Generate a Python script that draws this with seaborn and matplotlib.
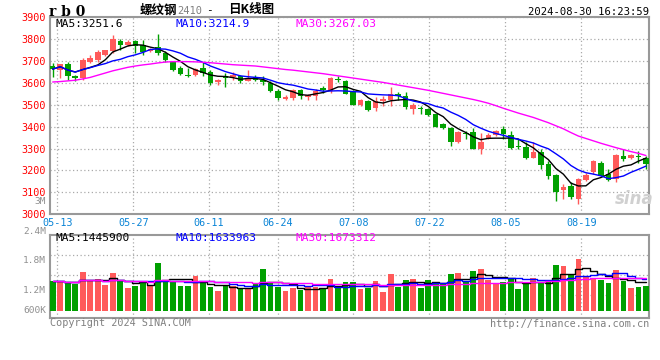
import numpy as np
import pandas as pd
import matplotlib
matplotlib.use("Agg")
import matplotlib.pyplot as plt
import seaborn as sns

# daily candles, 2024-05-10 .. 2024-08-30 (80 trading days)
opens = [3679, 3658, 3688, 3630, 3622, 3694, 3706, 3726, 3744, 3792,
         3774, 3789, 3771, 3747, 3763, 3736, 3695, 3668, 3637, 3637,
         3668, 3648, 3603, 3630, 3625, 3630, 3610, 3625, 3615, 3600,
         3562, 3527, 3530, 3566, 3536, 3542, 3577, 3562, 3617, 3607,
         3557, 3501, 3517, 3483, 3517, 3520, 3547, 3542, 3479, 3486,
         3479, 3456, 3410, 3395, 3330, 3373, 3376, 3299, 3345, 3361,
         3388, 3361, 3310, 3308, 3258, 3285, 3228, 3179, 3112, 3127,
         3070, 3158, 3191, 3236, 3183, 3161, 3264, 3255, 3266, 3255]
highs = [3691, 3688, 3694, 3636, 3712, 3729, 3751, 3751, 3817, 3800,
         3794, 3794, 3794, 3759, 3823, 3744, 3700, 3676, 3668, 3668,
         3694, 3657, 3618, 3645, 3648, 3637, 3657, 3637, 3630, 3607,
         3570, 3545, 3572, 3572, 3551, 3572, 3585, 3627, 3630, 3615,
         3567, 3527, 3524, 3536, 3539, 3582, 3557, 3557, 3509, 3494,
         3486, 3460, 3418, 3400, 3379, 3380, 3395, 3370, 3373, 3385,
         3403, 3380, 3342, 3330, 3330, 3297, 3242, 3183, 3140, 3146,
         3165, 3188, 3248, 3242, 3206, 3274, 3297, 3274, 3290, 3267]
lows = [3627, 3621, 3615, 3607, 3615, 3690, 3697, 3721, 3736, 3751,
        3767, 3736, 3729, 3739, 3729, 3697, 3653, 3636, 3627, 3630,
        3633, 3591, 3591, 3582, 3615, 3600, 3607, 3607, 3592, 3558,
        3524, 3524, 3524, 3527, 3524, 3524, 3555, 3555, 3603, 3547,
        3501, 3494, 3471, 3471, 3494, 3494, 3524, 3479, 3456, 3456,
        3449, 3398, 3388, 3312, 3327, 3342, 3296, 3274, 3342, 3358,
        3342, 3297, 3297, 3252, 3255, 3206, 3161, 3062, 3070, 3070,
        3047, 3150, 3183, 3173, 3152, 3146, 3245, 3252, 3236, 3206]
closes = [3663, 3684, 3630, 3621, 3706, 3713, 3739, 3748, 3800, 3771,
          3785, 3767, 3739, 3754, 3736, 3703, 3658, 3642, 3630, 3663,
          3645, 3600, 3613, 3624, 3638, 3607, 3619, 3612, 3603, 3562,
          3529, 3536, 3566, 3539, 3546, 3562, 3566, 3620, 3613, 3551,
          3501, 3521, 3476, 3515, 3527, 3551, 3539, 3489, 3501, 3482,
          3452, 3398, 3395, 3330, 3376, 3367, 3299, 3330, 3361, 3380,
          3366, 3304, 3306, 3255, 3285, 3225, 3176, 3103, 3125, 3080,
          3161, 3179, 3242, 3176, 3158, 3270, 3252, 3270, 3262, 3228]
# MA30 as drawn on the chart (needs history before the window)
ma30_price = [3604, 3606, 3609, 3612, 3618, 3625, 3635, 3645, 3655, 3663,
              3671, 3677, 3682, 3686, 3691, 3695, 3697, 3697, 3697, 3696,
              3694, 3692, 3689, 3686, 3683, 3681, 3679, 3677, 3673, 3669,
              3665, 3661, 3658, 3654, 3650, 3646, 3642, 3637, 3632, 3627,
              3622, 3617, 3612, 3607, 3602, 3596, 3590, 3584, 3578, 3572,
              3566, 3559, 3552, 3545, 3538, 3531, 3524, 3516, 3507, 3496,
              3484, 3473, 3462, 3452, 3442, 3430, 3418, 3404, 3390, 3373,
              3357, 3346, 3335, 3324, 3314, 3304, 3295, 3286, 3278, 3268]
# volume in thousand lots
volumes = [1530, 1530, 1411, 1360, 1993, 1530, 1633, 1324, 1942, 1530,
           1169, 1272, 1411, 1272, 2457, 1530, 1530, 1272, 1272, 1787,
           1411, 1221, 1015, 1272, 1272, 1133, 1169, 1411, 2148, 1411,
           1221, 1015, 1169, 1066, 1221, 1236, 1118, 1633, 1185, 1478,
           1478, 1118, 1185, 1530, 979, 1890, 1221, 1581, 1633, 1185,
           1581, 1375, 1375, 1890, 1942, 1478, 2045, 2148, 1581, 1427,
           1478, 1684, 1118, 1427, 1684, 1427, 1581, 2354, 2302, 1839,
           2663, 1720, 1633, 1581, 1442, 2096, 1530, 1169, 1221, 1272]
tick_idx = [1, 11, 21, 30, 40, 50, 60, 70]
tick_labels = ["05-13", "05-27", "06-11", "06-24", "07-08", "07-22", "08-05", "08-19"]
price_ticks = [3000, 3100, 3200, 3300, 3400, 3500, 3600, 3700, 3800, 3900]
vol_labels = ["3M", "2.4M", "1.8M", "1.2M", "600K"]
# caption values printed on the chart
price_ma_text = ["MA5:3251.6", "MA10:3214.9", "MA30:3267.03"]
vol_ma_text = ["MA5:1445900", "MA10:1633963", "MA30:1673312"]

RED = "#ff5a5a"
GREEN = "#00a000"
GRID = "#aaaaaa"
FRAME = "#999999"
MONO = "DejaVu Sans Mono"
MA_COLORS = ["black", "#0000ff", "#ff00ff"]

sns.set_theme(style="white")
plt.rcParams["font.family"] = ["DejaVu Sans Mono", "Noto Sans CJK SC"]

df = pd.DataFrame({"o": opens, "h": highs, "l": lows, "c": closes,
                   "v": np.array(volumes) * 1000})
df["x"] = np.arange(len(df))
df["up"] = df["c"] >= df["o"]
df["col"] = np.where(df["up"], RED, GREEN)
df["ma5"] = df["c"].rolling(5, min_periods=1).mean()
df["ma10"] = df["c"].rolling(10, min_periods=1).mean()
df["ma30"] = ma30_price
df["vma5"] = df["v"].rolling(5, min_periods=1).mean()
df["vma10"] = df["v"].rolling(10, min_periods=1).mean()
df["vma30"] = df["v"].rolling(30, min_periods=1).mean()

W, H = 660, 360
fig = plt.figure(figsize=(6.6, 3.6), dpi=100)
fig.patch.set_facecolor("white")


def fx(px):
    return px / W


def fy(py):
    return 1 - py / H


# gridline positions drift a bit from the candle centres on the original
tick_pos = [0.61 + (i - 1) * 1.0113 for i in tick_idx]
xlim = (-0.36, 79.4)

ax = fig.add_axes([fx(50), fy(214.2), fx(649) - fx(50), fy(17.2) - fy(214.2)])
axv = fig.add_axes([fx(50), fy(317.7), fx(649) - fx(50), fy(234.7) - fy(317.7)])

# candles
ax.vlines(df["x"], df["l"], df["h"], colors=df["col"], linewidth=1, zorder=3)
body_lo = np.minimum(df["o"], df["c"])
body_h = np.maximum(np.abs(df["c"] - df["o"]), 3)
ax.bar(df["x"], body_h, bottom=body_lo, width=0.74, color=df["col"],
       linewidth=0, zorder=4)

for col, c in zip(["ma5", "ma10", "ma30"], MA_COLORS):
    sns.lineplot(data=df, x="x", y=col, ax=ax, color=c, linewidth=1, zorder=5)

ax.set_xlim(*xlim)
ax.set_ylim(3000, 3900)
ax.set_yticks(price_ticks)
ax.set_yticklabels([str(t) for t in price_ticks], color="#ff0000",
                   fontsize=7.3, family=MONO)
ax.set_xticks(tick_pos)
ax.set_xticklabels(tick_labels, color="#0a84d6", fontsize=7.3, family=MONO)
ax.tick_params(length=0, pad=3)
ax.set_xlabel("")
ax.set_ylabel("")
ax.grid(True, linestyle=(0, (1, 2)), color=GRID, linewidth=0.9)

# volume
axv.bar(df["x"], df["v"], width=0.76, color=df["col"], linewidth=0, zorder=3)
for col, c in zip(["vma5", "vma10", "vma30"], MA_COLORS):
    sns.lineplot(data=df, x="x", y=col, ax=axv, color=c, linewidth=1,
                 drawstyle="steps-mid", zorder=5)
axv.set_xlim(*xlim)
axv.set_ylim(-360500, 3914000)
axv.set_xticks(tick_pos)
axv.set_xticklabels([])
axv.set_yticks([2869000, 1839000, 809000])
axv.set_yticklabels([])
axv.tick_params(length=0)
axv.set_xlabel("")
axv.set_ylabel("")
axv.grid(True, linestyle=(0, (1, 2)), color=GRID, linewidth=0.9)

for a in (ax, axv):
    a.set_facecolor("white")
    a.set_axisbelow(True)
    for s in a.spines.values():
        s.set_visible(True)
        s.set_color(FRAME)
        s.set_linewidth(1.5)

# header
fig.text(fx(49), fy(12), "r b 0", family="DejaVu Serif", fontweight="bold",
         fontsize=10, va="center", ha="left", color="black")
cjk = ["Noto Sans CJK SC", "DejaVu Sans"]
fig.text(fx(140), fy(10), "螺纹钢", family=cjk, fontsize=9, fontweight="bold",
         va="center", ha="left", color="black")
fig.text(fx(177), fy(10.5), "2410", family=MONO, fontsize=7.5,
         va="center", ha="left", color="#808080")
fig.text(fx(206), fy(10), "-", family=MONO, fontsize=8,
         va="center", ha="left", color="black")
fig.text(fx(228), fy(10), "日K线图", family=cjk, fontsize=9, fontweight="bold",
         va="center", ha="left", color="black")
fig.text(fx(649), fy(12), "2024-08-30 16:23:59", family=MONO, fontsize=7.6,
         va="center", ha="right", color="black")

# MA captions
for txt, px, c in zip(price_ma_text, [55, 175, 295], MA_COLORS):
    fig.text(fx(px), fy(23.7), txt, family=MONO, fontsize=8, va="center", color=c)
for txt, px, c in zip(vol_ma_text, [55, 175, 295], MA_COLORS):
    fig.text(fx(px), fy(238.3), txt, family=MONO, fontsize=8, va="center", color=c)

# volume axis captions (placed as on the original)
for lab, py in zip(vol_labels, [201.5, 231, 260.5, 290.3, 310.7]):
    fig.text(fx(46), fy(py), lab, family=MONO, fontsize=6.8, va="center",
             ha="right", color="#909090")

fig.text(fx(50), fy(323.5), "Copyright 2024 SINA.COM", family=MONO,
         fontsize=7.3, va="center", ha="left", color="#808080")
fig.text(fx(649), fy(324), "http://finance.sina.com.cn", family=MONO,
         fontsize=7.3, va="center", ha="right", color="#808080")

# watermark
fig.text(fx(634), fy(199), "sina", family="DejaVu Sans", fontsize=12,
         fontweight="bold", style="italic", va="center", ha="center",
         color="#d0d0d0", zorder=1)

fig.savefig("out.png", dpi=100, facecolor="white")
